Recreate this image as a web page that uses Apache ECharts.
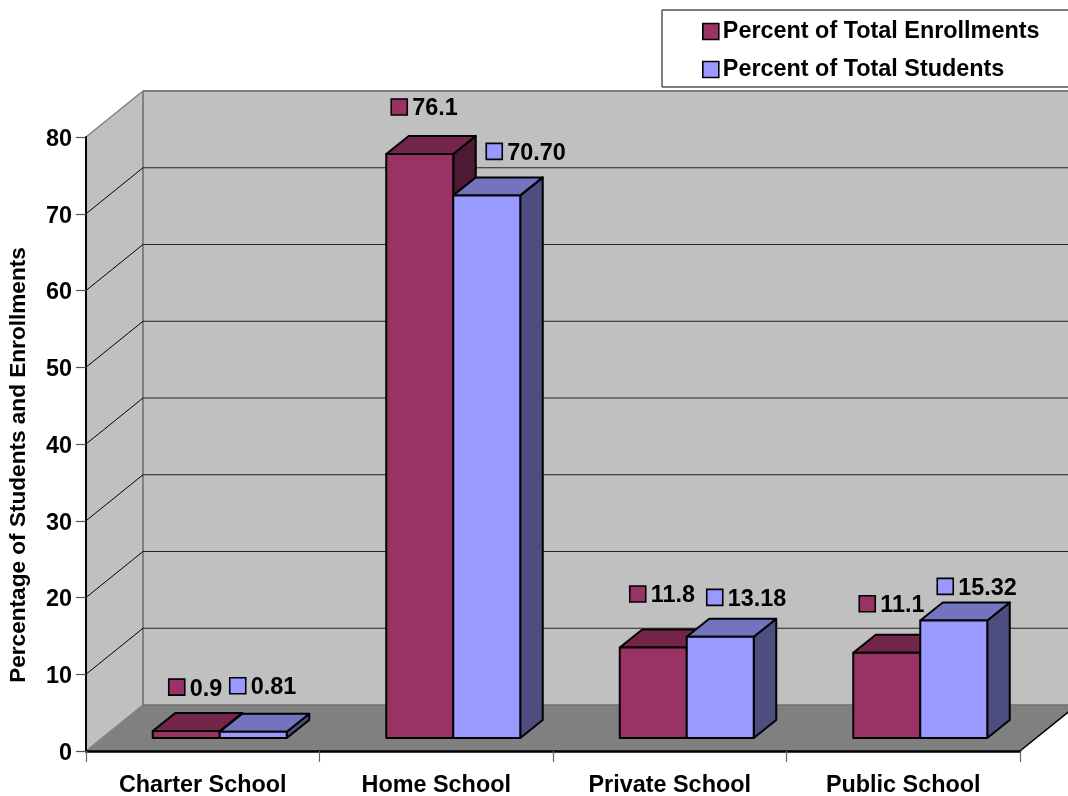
<!DOCTYPE html>
<html><head><meta charset="utf-8">
<style>html,body{margin:0;padding:0;background:#fff;overflow:hidden}#c{width:1068px;height:796px}</style>
<script src="https://cdn.jsdelivr.net/npm/echarts@6/dist/echarts.min.js"></script>
</head><body><div id="c"></div>
<script>
const categories = ['Charter School','Home School','Private School','Public School'];
const enrollments = [0.9, 76.1, 11.8, 11.1];
const students = [0.81, 70.70, 13.18, 15.32];
const yTicks = [0,10,20,30,40,50,60,70,80];
const seriesNames = ['Percent of Total Enrollments','Percent of Total Students'];
const yTitle = 'Percentage of Students and Enrollments';

// layout
const FONT = 'Liberation Sans, Arial, sans-serif';
const FS = 23.4;
const WALL = {dx:57, dy:46};
const BAR = {w:67, dx:22.5, dy:18, frontX:17, frontY:13};
const enrollLabelOffset = [[16,-44],[5,-47],[10,-53.5],[6,-49]];
const studentLabelOffset = [[10,-46],[33,-44],[20,-39.5],[17,-34]];
const KEY = 16;

const C1 = {front:'#993366', top:'#732649', side:'#4D1933'};
const C2 = {front:'#9999FF', top:'#7373BF', side:'#4D4D80'};

function poly(points, fill, stroke, lw){
  return {type:'polygon', shape:{points}, style:{fill, stroke:stroke||'none', lineWidth:lw||0, lineJoin:'round'}};
}
function seg(x1,y1,x2,y2,stroke,lw){
  return {type:'line', shape:{x1,y1,x2,y2}, style:{stroke, lineWidth:lw}};
}
function renderWalls(params){
  const g = params.coordSys, L=g.x, R=g.x+g.width, T=g.y, B=g.y+g.height, dx=WALL.dx, dy=WALL.dy;
  return {type:'group', children:[
    poly([[L+dx,T-dy],[R+dx,T-dy],[R+dx,B-dy],[L+dx,B-dy]],'#C0C0C0'),
    poly([[L,T],[L+dx,T-dy],[L+dx,B-dy],[L,B]],'#C0C0C0'),
    poly([[L,B],[L+dx,B-dy],[R+dx,B-dy],[R,B]],'#808080'),
    seg(L+dx,T-dy,L+dx,B-dy,'#808080',2),
    seg(L+dx,T-dy,R+dx,T-dy,'#808080',2),
    seg(L,T,L+dx,T-dy,'#808080',1.5),
    seg(L,B,L+dx,B-dy,'#808080',1.5),
    seg(L+dx,B-dy,R+dx,B-dy,'#707070',1.5),
    seg(R,B,R+dx,B-dy,'#000',1.5)
  ]};
}
function renderGrid(params, api){
  const v = api.value(0);
  if (v===yTicks[0] || v===yTicks[yTicks.length-1]) return {type:'group', children:[]};
  const g = params.coordSys, y = api.coord([0,v])[1], dx=WALL.dx, dy=WALL.dy;
  return {type:'group', children:[
    seg(g.x,y,g.x+dx,y-dy,'#000',1),
    seg(g.x+dx,y-dy,g.x+g.width+dx,y-dy,'#222',1.2)
  ]};
}
function barRenderer(slot, col, offsets, decimals){
  return function(params, api){
    const i = api.value(0), v = api.value(1);
    const c = api.coord([i, v]), c0 = api.coord([i, 0]);
    const left = c0[0] + BAR.frontX - BAR.w + slot*BAR.w, right = left + BAR.w;
    const base = c0[1] - BAR.frontY, top = c[1] - BAR.frontY;
    const dx = BAR.dx, dy = BAR.dy, lw = 2;
    const off = offsets[i], kx = left+off[0], ky = top+off[1];
    return {type:'group', children:[
      poly([[right,top],[right+dx,top-dy],[right+dx,base-dy],[right,base]],col.side,'#000',lw),
      poly([[left,top],[left+dx,top-dy],[right+dx,top-dy],[right,top]],col.top,'#000',lw),
      poly([[left,top],[right,top],[right,base],[left,base]],col.front,'#000',lw),
      {type:'rect', shape:{x:kx,y:ky-KEY/2,width:KEY,height:KEY}, style:{fill:col.front,stroke:'#000',lineWidth:1.6}},
      {type:'text', style:{x:kx+KEY+5,y:ky+2,text:v.toFixed(decimals),font:'bold '+FS+'px '+FONT,fill:'#000',textAlign:'left',textVerticalAlign:'middle'}}
    ]};
  };
}

const chart = echarts.init(document.getElementById('c'));
chart.setOption({
  animation:false,
  backgroundColor:'#fff',
  grid:{left:86, right:48, top:137, bottom:45, containLabel:false, outerBoundsMode:'none'},
  legend:{
    left:662, top:10, orient:'vertical', selectedMode:false,
    padding:[10,60,6,40], itemGap:15, itemWidth:16, itemHeight:16,
    backgroundColor:'#fff', borderColor:'#000', borderWidth:1,
    textStyle:{fontFamily:FONT,fontWeight:'bold',fontSize:FS,color:'#000',padding:[0,0,0,-1]},
    data:[
      {name:seriesNames[0],icon:'rect',itemStyle:{color:C1.front,borderColor:'#000',borderWidth:1.6}},
      {name:seriesNames[1],icon:'rect',itemStyle:{color:C2.front,borderColor:'#000',borderWidth:1.6}}
    ]
  },
  xAxis:{type:'category',data:categories,z:5,
    axisLine:{lineStyle:{color:'#000',width:2.5}},
    axisTick:{show:true,length:11,lineStyle:{color:'#666',width:1.2}},
    axisLabel:{margin:23,fontFamily:FONT,fontWeight:'bold',fontSize:FS,color:'#000'}},
  yAxis:{type:'value',min:0,max:80,interval:10,z:5,
    name:yTitle,nameLocation:'middle',nameGap:56,nameRotate:90,
    nameTextStyle:{fontFamily:FONT,fontWeight:'bold',fontSize:22.6,color:'#000',padding:[0,42,0,0]},
    splitLine:{show:false},
    axisLine:{show:true,lineStyle:{color:'#000',width:2}},
    axisTick:{show:true,length:10,lineStyle:{color:'#555',width:1.2}},
    axisLabel:{margin:14,formatter:'{n|{value}}',
      rich:{n:{fontFamily:FONT,fontWeight:'bold',fontSize:FS,color:'#000',padding:[5,0,0,0]}}}},
  series:[
    {type:'custom',name:'walls',silent:true,data:[[0]],renderItem:renderWalls,z:1,clip:false},
    {type:'custom',name:'grid',silent:true,data:yTicks.map(t=>[t]),encode:{y:0},renderItem:renderGrid,z:1.5,clip:false},
    {type:'custom',name:seriesNames[0],data:enrollments.map((v,i)=>[i,v]),encode:{x:0,y:1},renderItem:barRenderer(0,C1,enrollLabelOffset,1),z:2,clip:false,itemStyle:{color:C1.front}},
    {type:'custom',name:seriesNames[1],data:students.map((v,i)=>[i,v]),encode:{x:0,y:1},renderItem:barRenderer(1,C2,studentLabelOffset,2),z:3,clip:false,itemStyle:{color:C2.front}}
  ]
});
</script></body></html>
